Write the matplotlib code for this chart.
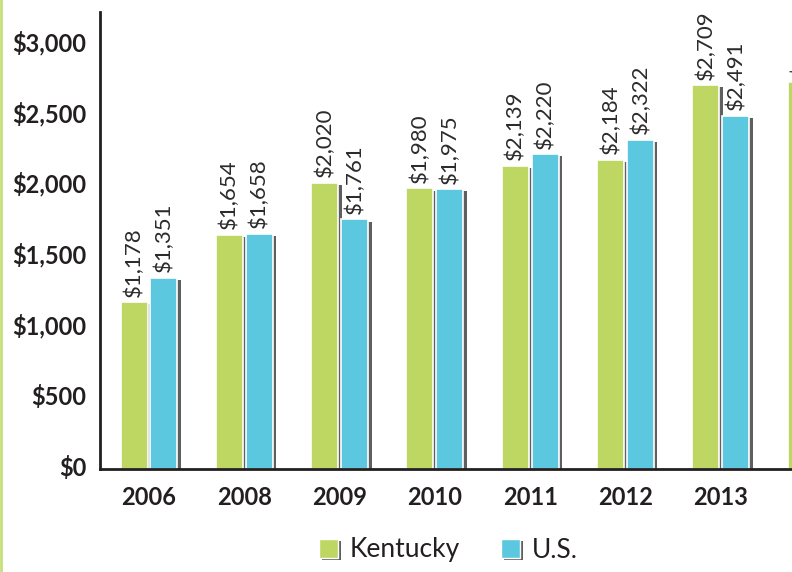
import matplotlib
matplotlib.use("Agg")
import matplotlib.pyplot as plt
import matplotlib.patheffects as pe
import matplotlib.transforms as mtransforms
from matplotlib.patches import Patch
from matplotlib.lines import Line2D
import numpy as np

years = ["2006", "2008", "2009", "2010", "2011", "2012", "2013", "2014"]
kentucky = [1178, 1654, 2020, 1980, 2139, 2184, 2709, 2730]
us = [1351, 1658, 1761, 1975, 2220, 2322, 2491, 2550]
series_names = ["Kentucky", "U.S."]
yticks = [0, 500, 1000, 1500, 2000, 2500, 3000]

green = "#bdd762"
blue = "#5bc8df"
dark = "#231f20"

plt.rcParams['font.family'] = ['Lato', 'DejaVu Sans']

fig = plt.figure(figsize=(7.92, 5.72), dpi=100)
ax = fig.add_axes([100/792, 103/572, 692/792, 457/572])

x = np.arange(len(years))
w = 0.283
off = 0.157
shadow = [pe.SimplePatchShadow(offset=(2.5, -1.5), shadow_rgbFace="#2a2a2a", alpha=0.75), pe.Normal()]
b1 = ax.bar(x - off, kentucky, w, color=green, edgecolor="white", linewidth=1.2, path_effects=shadow, zorder=3)
b2 = ax.bar(x + off, us, w, color=blue, edgecolor="white", linewidth=1.2, path_effects=shadow, zorder=3)

for bars, vals in ((b1, kentucky), (b2, us)):
    for rect, v in zip(bars, vals):
        ax.annotate(f"${v:,}", (rect.get_x() + rect.get_width()/2, v),
                    xytext=(0, 4), textcoords="offset points",
                    rotation=90, ha="center", va="bottom", fontsize=16,
                    color="#2b2b2b", annotation_clip=False)

ax.set_xlim(-0.514, 6.747)
ax.set_ylim(0, 3225)
ax.set_xticks(x[:7])
ax.set_xticklabels(years[:7], fontsize=17, fontweight="bold", color=dark)
ax.set_yticks(yticks)
ax.set_yticklabels([f"${t:,}" for t in yticks], fontsize=17, fontweight="bold", color=dark)
ax.tick_params(axis="x", length=0, pad=12)
ax.tick_params(axis="y", length=0, pad=10)
shift = mtransforms.ScaledTranslation(0, 3/100, fig.dpi_scale_trans)
for lab in ax.get_yticklabels():
    lab.set_transform(lab.get_transform() + shift)
for s in ("top", "right"):
    ax.spines[s].set_visible(False)
for s in ("left", "bottom"):
    ax.spines[s].set_color(dark)
    ax.spines[s].set_linewidth(2)
    ax.spines[s].set_zorder(4)

handles = [Patch(facecolor=green, edgecolor="white", linewidth=1, path_effects=shadow),
           Patch(facecolor=blue, edgecolor="white", linewidth=1, path_effects=shadow)]
fig.legend(handles, series_names, loc="center", bbox_to_anchor=(448/792, 1 - 550/572),
           ncol=2, frameon=False, fontsize=19, handlelength=0.72, handleheight=0.72,
           handletextpad=0.45, columnspacing=1.55, labelcolor=dark)

fig.add_artist(Line2D([0.0015, 0.0015], [0, 1], transform=fig.transFigure, color="#c5e07a", linewidth=2))

fig.savefig("out.png", dpi=100)
